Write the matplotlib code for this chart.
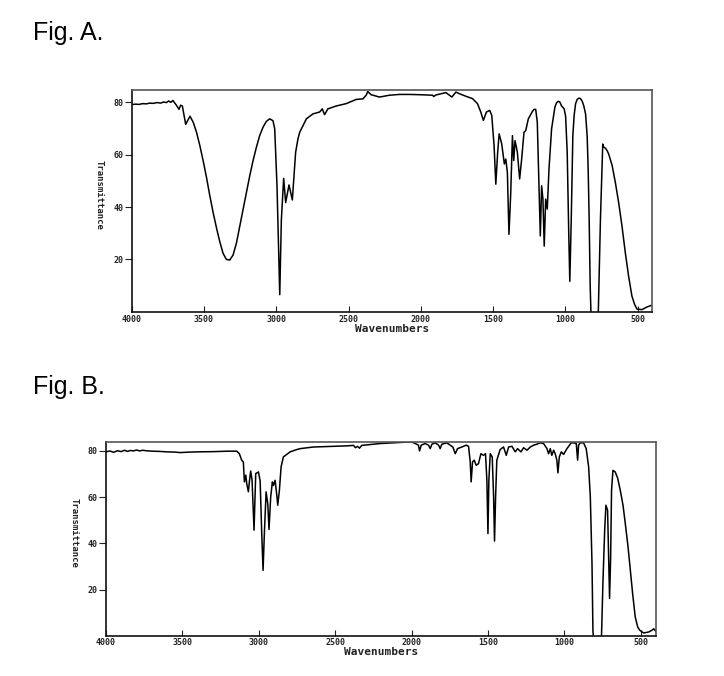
import matplotlib
matplotlib.use('Agg')
import matplotlib.pyplot as plt

# Fig. A spectrum (wavenumber, %T)
wn_a = [4000, 3975, 3950, 3925, 3900, 3875, 3850, 3825, 3800, 3780, 3760, 3745, 3730, 3715, 3705,
        3690, 3673, 3662, 3650, 3627, 3597, 3575, 3552, 3529, 3506, 3483, 3460, 3437, 3414, 3391,
        3368, 3345, 3322, 3299, 3276, 3253, 3230, 3207, 3184, 3161, 3138, 3115, 3092, 3069, 3046,
        3023, 3011, 2995, 2976, 2965, 2949, 2935, 2912, 2889, 2866, 2850, 2838, 2815, 2792,
        2746, 2700, 2682, 2666, 2643, 2585, 2516, 2447, 2401, 2378, 2367, 2344, 2286, 2217, 2148,
        2079, 2010, 1918, 1911, 1895, 1826, 1785, 1757, 1734, 1688, 1642, 1608, 1585, 1567, 1546,
        1523, 1509, 1493, 1481, 1468, 1458, 1440, 1422, 1412, 1401, 1390, 1378, 1366, 1357, 1348,
        1332, 1316, 1302, 1286, 1274, 1256, 1228, 1217, 1205, 1194, 1182, 1173, 1164, 1155, 1146,
        1136, 1125, 1113, 1095, 1072, 1061, 1049, 1038, 1026, 1017, 1008, 998, 987, 976, 969,
        959, 948, 939, 929, 918, 906, 895, 883, 872, 860, 849, 842, 835, 828, 821,
        773, 757, 741, 734, 722, 711, 700, 676, 654, 631, 608, 585, 562, 539, 520,
        504, 470, 435, 419, 405]
t_a = [79.0, 79.2, 79.1, 79.4, 79.3, 79.6, 79.5, 79.8, 79.6, 80.0, 79.8, 80.4, 79.9, 80.6, 79.8,
       78.7, 77.2, 78.8, 78.5, 71.5, 74.6, 72.3, 68.5, 63.4, 57.6, 51.3, 44.3, 37.9, 32.1, 26.8,
       22.3, 20.0, 19.8, 21.7, 26.2, 32.6, 39.0, 45.4, 51.8, 57.6, 62.7, 67.2, 70.4, 72.6, 73.6,
       72.9, 69.8, 48.0, 6.6, 35.0, 50.9, 41.7, 48.4, 42.7, 60.9, 66.0, 68.5, 71.0, 73.6,
       75.5, 76.2, 77.4, 75.2, 77.4, 78.5, 79.4, 81.0, 81.2, 82.6, 84.0, 82.8, 81.9, 82.6, 82.9,
       82.9, 82.8, 82.6, 82.1, 82.7, 83.6, 81.9, 83.8, 83.2, 82.2, 81.3, 79.4, 76.2, 73.0, 76.2,
       76.8, 74.9, 63.4, 48.7, 61.0, 67.9, 64.0, 56.4, 58.3, 53.2, 29.6, 44.9, 67.2, 57.7, 65.3,
       60.9, 50.7, 58.3, 68.5, 69.1, 73.6, 76.4, 77.2, 77.2, 72.3, 48.1, 29.0, 48.1, 43.0, 25.1,
       43.0, 39.2, 54.5, 69.8, 78.1, 79.7, 80.3, 80.0, 78.5, 78.0, 77.4, 74.6, 60.9, 29.0, 11.7,
       35.3, 67.2, 74.9, 79.4, 81.0, 81.5, 81.3, 80.3, 78.5, 75.5, 67.2, 54.5, 35.3, 9.8, -3.0,
       -3.0, 35.3, 64.0, 62.8, 62.4, 61.5, 60.2, 55.8, 49.4, 41.7, 32.8, 22.6, 13.6, 6.0, 2.8,
       1.1, 0.9, 1.9, 2.2, 2.5]

# Fig. B spectrum
wn_b = [4000, 3975, 3950, 3925, 3900, 3880, 3860, 3840, 3820, 3800, 3780, 3760, 3740, 3700, 3650,
        3600, 3550, 3515, 3450, 3400, 3297, 3200, 3144, 3127, 3112, 3101, 3094, 3085, 3079, 3068,
        3061, 3053, 3044, 3031, 3020, 3002, 2991, 2981, 2972, 2963, 2952, 2941, 2933, 2922, 2911,
        2904, 2893, 2882, 2876, 2865, 2854, 2839, 2795, 2751, 2729, 2642, 2424, 2380, 2367, 2354,
        2341, 2326, 2206, 2009, 1987, 1955, 1948, 1937, 1911, 1889, 1878, 1867, 1845, 1823, 1813,
        1802, 1769, 1747, 1730, 1714, 1699, 1671, 1642, 1627, 1616, 1610, 1601, 1590, 1577, 1562,
        1546, 1529, 1516, 1507, 1500, 1494, 1485, 1472, 1463, 1457, 1450, 1442, 1420, 1398, 1380,
        1365, 1343, 1321, 1306, 1284, 1267, 1245, 1223, 1201, 1180, 1158, 1136, 1114, 1103, 1092,
        1082, 1070, 1060, 1049, 1042, 1033, 1020, 1005, 983, 966, 955, 939, 922, 913, 907,
        896, 874, 857, 841, 830, 819, 813, 808, 758, 747, 736, 728, 717, 710, 704,
        697, 691, 682, 667, 651, 634, 616, 601, 583, 568, 553, 536, 520, 507, 481,
        448, 426, 415, 398]
t_b = [79.6, 80.0, 79.4, 80.1, 79.7, 80.3, 79.8, 80.2, 80.0, 80.4, 80.0, 80.3, 80.1, 79.9, 79.8,
       79.6, 79.5, 79.3, 79.5, 79.6, 79.7, 79.9, 79.9, 78.8, 76.0, 75.2, 66.6, 69.5, 65.9, 62.3,
       67.0, 71.3, 67.3, 45.7, 70.2, 70.9, 67.0, 45.0, 28.3, 45.0, 62.3, 57.0, 46.0, 60.1, 66.6,
       65.0, 67.3, 60.8, 56.5, 63.0, 73.1, 77.4, 79.6, 80.6, 81.0, 81.7, 82.2, 82.4, 81.4, 82.0,
       81.2, 82.4, 83.2, 83.9, 83.6, 82.5, 80.0, 82.5, 83.2, 82.5, 81.0, 82.9, 83.5, 82.5, 81.0,
       82.9, 83.5, 82.5, 81.7, 78.8, 81.0, 81.7, 82.5, 82.0, 75.2, 66.6, 75.2, 76.0, 73.8, 74.5,
       78.8, 78.1, 78.8, 67.3, 44.2, 67.3, 78.8, 77.4, 60.1, 41.0, 60.1, 76.0, 80.6, 81.7, 78.1,
       81.7, 82.0, 79.6, 81.0, 79.6, 81.4, 80.3, 81.7, 82.5, 82.9, 83.5, 83.2, 81.0, 78.8, 81.0,
       78.1, 80.3, 78.8, 76.0, 70.5, 77.4, 79.6, 78.5, 81.0, 82.5, 83.5, 83.5, 83.2, 76.0, 82.5,
       83.5, 83.5, 81.0, 73.1, 60.1, 31.2, 2.4, -3.0, -3.0, 24.0, 45.7, 56.5, 54.3, 34.1, 16.1,
       34.1, 63.0, 71.6, 70.9, 68.2, 63.0, 56.5, 48.5, 38.4, 28.3, 18.2, 8.1, 3.8, 2.4, 1.2,
       1.6, 2.4, 3.0, 1.6]

x_ticks = [4000, 3500, 3000, 2500, 2000, 1500, 1000, 500]
y_ticks = [20, 40, 60, 80]

fig = plt.figure(figsize=(7.24, 6.76), dpi=100)

tick_font = dict(family='DejaVu Sans Mono', fontweight='bold', fontsize=6)


def draw_spectrum(ax, wn, t, ytop, ylab_x, ylab_y):
    ax.plot(wn, t, color='black', linewidth=1.1)
    ax.set_xlim(4000, 400)
    ax.set_ylim(0, ytop)
    ax.set_xticks(x_ticks)
    ax.set_yticks(y_ticks)
    ax.set_xticklabels([str(v) for v in x_ticks], **tick_font)
    ax.set_yticklabels([str(v) for v in y_ticks], **tick_font)
    ax.tick_params(axis='x', direction='in', length=4, width=0.8, pad=2, colors='#222222')
    ax.tick_params(axis='y', direction='out', length=5, width=0.8, pad=1, colors='#222222')
    for s in ax.spines.values():
        s.set_color('#555555')
        s.set_linewidth(1.2)
    ax.spines['left'].set_color('#111111')
    ax.spines['bottom'].set_color('#111111')
    ax.set_xlabel('Wavenumbers', family='DejaVu Sans Mono', fontweight='bold', fontsize=8,
                  labelpad=0, color='#222222')
    ax.set_ylabel('Transmittance', family='DejaVu Sans Mono', fontweight='bold', fontsize=6.5,
                  rotation=270, color='#222222')
    ax.yaxis.set_label_coords(ylab_x, ylab_y)


ax_a = fig.add_axes([0.182, 0.5385, 0.7186, 0.3284])
draw_spectrum(ax_a, wn_a, t_a, 84.6, -0.071, 0.527)

ax_b = fig.add_axes([0.1464, 0.0596, 0.7597, 0.2870])
draw_spectrum(ax_b, wn_b, t_b, 84.0, -0.067, 0.53)

fig.text(0.045, 0.9408, 'Fig. A.', family='Liberation Sans', fontsize=18, va='baseline')
fig.text(0.045, 0.4172, 'Fig. B.', family='Liberation Sans', fontsize=18, va='baseline')

fig.savefig('out.png', dpi=100)
